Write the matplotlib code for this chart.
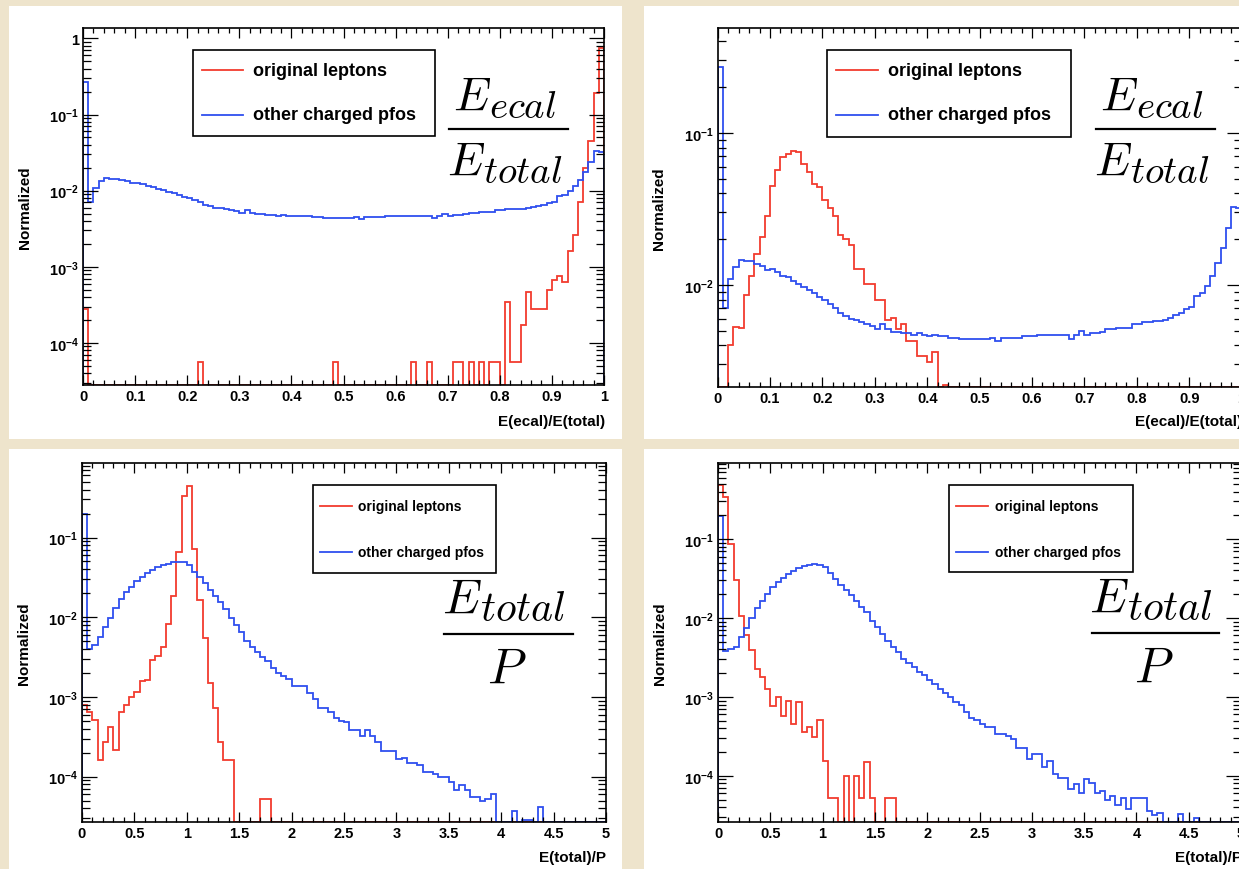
# Four ROOT-style normalized histograms (log y), rebuilt with matplotlib
import numpy as np
import matplotlib
matplotlib.use('Agg')
import matplotlib.pyplot as plt
from matplotlib.ticker import MultipleLocator, LogLocator, FuncFormatter, NullFormatter
from matplotlib.patches import Rectangle
from matplotlib.lines import Line2D

# ---------------- data (100 bins each) ----------------
edges_ecal = np.linspace(0.0, 1.0, 101)
edges_ep = np.linspace(0.0, 5.0, 101)

# E(ecal)/E(total), other charged pfos
blue_ecal = [
    0.27, 0.0071, 0.011, 0.0132, 0.0145, 0.0144, 0.0143, 0.0137, 0.0133, 0.0125,
    0.0127, 0.0121, 0.0114, 0.0113, 0.0106, 0.0102, 0.0097, 0.0093, 0.0088, 0.0083,
    0.0079, 0.0075, 0.0071, 0.0065, 0.0062, 0.0060, 0.0059, 0.0057, 0.0055, 0.0054,
    0.0051, 0.0055, 0.0051, 0.0049, 0.0049, 0.0048, 0.0048, 0.0047, 0.0048, 0.0047,
    0.0046, 0.0047, 0.0046, 0.0046, 0.0045, 0.0045, 0.0044, 0.0044, 0.0044, 0.0044,
    0.0044, 0.0044, 0.0045, 0.0043, 0.0045, 0.0045, 0.0045, 0.0045, 0.0046, 0.0046,
    0.0046, 0.0047, 0.0047, 0.0047, 0.0047, 0.0047, 0.0047, 0.0044, 0.0047, 0.0050,
    0.0047, 0.0048, 0.0048, 0.0049, 0.0051, 0.0051, 0.0052, 0.0052, 0.0052, 0.0055,
    0.0055, 0.0057, 0.0057, 0.0058, 0.0058, 0.0059, 0.0061, 0.0063, 0.0065, 0.0069,
    0.0072, 0.0084, 0.0088, 0.0099, 0.0115, 0.0139, 0.0175, 0.0237, 0.0327, 0.0320,
]

# E(ecal)/E(total), original leptons (top-left)
red_ecal_a = [
    2.8e-4, 0, 0, 0, 0, 0, 0, 0, 0, 0,
    0, 0, 0, 0, 0, 0, 0, 0, 0, 0,
    0, 0, 5.6e-5, 0, 0, 0, 0, 0, 0, 0,
    0, 0, 0, 0, 0, 0, 0, 0, 0, 0,
    0, 0, 0, 0, 0, 0, 0, 0, 5.6e-5, 0,
    0, 0, 0, 0, 0, 0, 0, 0, 0, 0,
    0, 0, 0, 5.6e-5, 0, 0, 5.6e-5, 0, 0, 0,
    0, 5.6e-5, 5.6e-5, 0, 5.6e-5, 0, 5.6e-5, 0, 5.6e-5, 5.6e-5,
    0, 3.4e-4, 5.6e-5, 5.6e-5, 1.7e-4, 4.6e-4, 2.8e-4, 2.8e-4, 2.8e-4, 5.0e-4,
    6.8e-4, 7.5e-4, 6.4e-4, 1.6e-3, 2.6e-3, 7.0e-3, 0.020, 0.045, 0.19, 0.75,
]

# E(ecal)/E(total), original leptons (top-right)
red_ecal_b = [
    0, 0, 0.0040, 0.0053, 0.0052, 0.0086, 0.0114, 0.0160, 0.0206, 0.0286,
    0.0446, 0.0570, 0.0690, 0.0727, 0.0758, 0.0746, 0.0625, 0.0550, 0.0460, 0.0440,
    0.0364, 0.0321, 0.0282, 0.0214, 0.0201, 0.0184, 0.0128, 0.0128, 0.0102, 0.0102,
    0.0079, 0.0079, 0.0059, 0.0061, 0.0051, 0.0055, 0.0043, 0.0043, 0.0034, 0.0034,
    0.0031, 0.0036, 0, 0.0022, 0, 0, 0, 0, 0, 0,
    0, 0, 0, 0, 0, 0, 0, 0, 0, 0,
    0, 0, 0, 0, 0, 0, 0, 0, 0, 0,
    0, 0, 0, 0, 0, 0, 0, 0, 0, 0,
    0, 0, 0, 0, 0, 0, 0, 0, 0, 0,
    0, 0, 0, 0, 0, 0, 0, 0, 0, 0,
]

# E(total)/P, other charged pfos (bottom-left)
blue_ep_a = [
    0.20, 0.00404, 0.00449, 0.00565, 0.00763, 0.0099, 0.0130, 0.0171, 0.0210, 0.0240,
    0.0285, 0.0324, 0.0363, 0.0392, 0.0428, 0.0453, 0.0465, 0.0486, 0.0490, 0.0486,
    0.0450, 0.0374, 0.0315, 0.0265, 0.0220, 0.0185, 0.0153, 0.0126, 0.0099, 0.0080,
    0.0065, 0.0051, 0.00424, 0.00367, 0.00318, 0.00283, 0.00234, 0.00202, 0.00183, 0.00166,
    0.00137, 0.00137, 0.00137, 0.00113, 0.00094, 0.00073, 0.00072, 0.00064, 0.00055, 0.00050,
    0.00048, 0.00039, 0.00039, 0.00032, 0.00038, 0.00032, 0.00027, 0.00021, 0.00021, 0.00021,
    1.65e-4, 1.7e-4, 1.5e-4, 1.5e-4, 1.4e-4, 1.13e-4, 1.13e-4, 1.07e-4, 1.0e-4, 1.0e-4,
    8.5e-5, 6.9e-5, 7.8e-5, 6.9e-5, 5.5e-5, 5.5e-5, 5.0e-5, 5.2e-5, 6.0e-5, 0,
    0, 0, 3.7e-5, 0, 2.9e-5, 2.9e-5, 0, 4.2e-5, 0, 0,
    0, 0, 0, 0, 0, 0, 0, 0, 0, 0,
]

# E(total)/P, original leptons (bottom-left)
red_ep_a = [
    0.0008, 0.00064, 0.00052, 0.00016, 0.00027, 0.00042, 0.000214, 0.00064, 0.00079, 0.0010,
    0.00117, 0.00158, 0.00163, 0.00291, 0.00327, 0.00424, 0.00817, 0.0185, 0.0667, 0.327,
    0.445, 0.0713, 0.0165, 0.00544, 0.00148, 0.00073, 0.000275, 0.000162, 0.000162, 0,
    0, 0, 0, 0, 5.3e-5, 5.3e-5, 0, 0, 0, 0,
    0, 0, 0, 0, 0, 0, 0, 0, 0, 0,
    0, 0, 0, 0, 0, 0, 0, 0, 0, 0,
    0, 0, 0, 0, 0, 0, 0, 0, 0, 0,
    0, 0, 0, 0, 0, 0, 0, 0, 0, 0,
    0, 0, 0, 0, 0, 0, 0, 0, 0, 0,
    0, 0, 0, 0, 0, 0, 0, 0, 0, 0,
]

# E(total)/P, other charged pfos (bottom-right)
blue_ep_b = [
    0.197, 0.00385, 0.0040, 0.0043, 0.0057, 0.0075, 0.0099, 0.0132, 0.0166, 0.0201,
    0.0244, 0.0283, 0.0320, 0.0360, 0.0397, 0.0425, 0.0450, 0.0473, 0.0482, 0.0470,
    0.0437, 0.0371, 0.0311, 0.0263, 0.0226, 0.0195, 0.0166, 0.0139, 0.0118, 0.0092,
    0.0076, 0.0062, 0.0051, 0.0043, 0.00366, 0.0030, 0.00266, 0.00237, 0.00204, 0.0019,
    0.00163, 0.00145, 0.00126, 0.00111, 0.00099, 0.00085, 0.00079, 0.00064, 0.00054, 0.00051,
    0.00046, 0.00042, 0.00041, 0.00034, 0.00034, 0.00032, 0.00029, 2.22e-4, 2.22e-4, 1.63e-4,
    1.88e-4, 1.88e-4, 1.28e-4, 1.55e-4, 1.07e-4, 9.5e-5, 9.5e-5, 6.8e-5, 7.9e-5, 6.1e-5,
    9.0e-5, 8.0e-5, 6.1e-5, 6.4e-5, 4.9e-5, 5.5e-5, 4.3e-5, 5.2e-5, 3.8e-5, 5.2e-5,
    5.2e-5, 5.2e-5, 3.6e-5, 3.2e-5, 3.4e-5, 0, 0, 0, 3.3e-5, 0,
    0, 2.9e-5, 0, 0, 0, 0, 0, 0, 0, 0,
]

# E(total)/P, original leptons (bottom-right)
red_ep_b = [
    0.48, 0.338, 0.0865, 0.030, 0.0105, 0.0060, 0.0039, 0.00225, 0.0018, 0.00126,
    0.00076, 0.00099, 0.00057, 0.00090, 0.00045, 0.00085, 0.00036, 0.00041, 0.00031, 0.00051,
    1.55e-4, 5.3e-5, 5.3e-5, 0, 1.0e-4, 0, 1.0e-4, 5.3e-5, 1.5e-4, 5.3e-5,
    0, 0, 5.3e-5, 5.3e-5, 0, 0, 0, 0, 0, 0,
    0, 0, 0, 0, 0, 0, 0, 0, 0, 0,
    0, 0, 0, 0, 0, 0, 0, 0, 0, 0,
    0, 0, 0, 0, 0, 0, 0, 0, 0, 0,
    0, 0, 0, 0, 0, 0, 0, 0, 0, 0,
    0, 0, 0, 0, 0, 0, 0, 0, 0, 0,
    0, 0, 0, 0, 0, 0, 0, 0, 0, 0,
]

legend_labels = ['original leptons', 'other charged pfos']

# ---------------- style ----------------
RED = '#F23C2E'
BLUE = '#2F4FEF'
W, H = 1239, 870

plt.rcParams['font.family'] = 'Liberation Sans'
plt.rcParams['font.weight'] = 'bold'
plt.rcParams['mathtext.fontset'] = 'custom'
plt.rcParams['mathtext.rm'] = 'Liberation Sans:bold'
plt.rcParams['mathtext.bf'] = 'Liberation Sans:bold'
plt.rcParams['mathtext.it'] = 'Liberation Sans:italic:bold'

fig = plt.figure(figsize=(W / 100, H / 100), dpi=100)
fig.patch.set_facecolor('#EEE4CC')


def fx(px):
    return px / W


def fy(py):
    return 1 - py / H


def white_panel(x0, y0, x1, y1):
    fig.add_artist(Rectangle((fx(x0), fy(y1)), fx(x1) - fx(x0), (y1 - y0) / H,
                             transform=fig.transFigure, facecolor='white',
                             edgecolor='none', zorder=-5))


def ylab(v, pos):
    if abs(v - 1) < 1e-9:
        return '1'
    return r'$\mathbf{10^{%d}}$' % int(round(np.log10(v)))


def make_axes(l, t, r, b, xmax, xmaj, xmin_step, ymin, ymax):
    ax = fig.add_axes([fx(l), fy(b), fx(r) - fx(l), (b - t) / H])
    ax.set_facecolor('white')
    ax.set_xlim(0, xmax)
    ax.set_yscale('log')
    ax.set_ylim(ymin, ymax)
    ax.xaxis.set_major_locator(MultipleLocator(xmaj))
    ax.xaxis.set_minor_locator(MultipleLocator(xmin_step))
    ax.xaxis.set_major_formatter(FuncFormatter(lambda v, p: '%g' % round(v, 3)))
    ax.yaxis.set_major_locator(LogLocator(base=10, numticks=20))
    ax.yaxis.set_minor_locator(LogLocator(base=10, subs=np.arange(2, 10), numticks=20))
    ax.yaxis.set_minor_formatter(NullFormatter())
    ax.yaxis.set_major_formatter(FuncFormatter(ylab))
    ax.tick_params(which='both', direction='in', top=True, right=True,
                   labelsize=10.5, width=0.9)
    ax.tick_params(axis='x', which='major', length=7.5, pad=3)
    ax.tick_params(axis='x', which='minor', length=3.8)
    ax.tick_params(axis='y', which='major', length=11, pad=3)
    ax.tick_params(axis='y', which='minor', length=5.5)
    for s in ax.spines.values():
        s.set_linewidth(1.2)
    ax.set_ylabel('Normalized', fontsize=11, fontweight='bold')
    ax.yaxis.set_label_coords(-0.098, 0.5)
    return ax


def draw_hist(ax, edges, vals, color, ymin):
    v = np.clip(np.asarray(vals, dtype=float), ymin, None)
    ax.stairs(v, edges, baseline=ymin, color=color, lw=1.3)


def legend_box(x0, y0, x1, y1, ys, lx0, lx1, tx, size):
    fig.add_artist(Rectangle((fx(x0), fy(y1)), fx(x1) - fx(x0), (y1 - y0) / H,
                             transform=fig.transFigure, facecolor='white',
                             edgecolor='black', lw=1.2, zorder=5))
    for yy, c, lab in zip(ys, [RED, BLUE], legend_labels):
        fig.add_artist(Line2D([fx(lx0), fx(lx1)], [fy(yy), fy(yy)],
                              transform=fig.transFigure, color=c, lw=1.3, zorder=6))
        fig.text(fx(tx), fy(yy), lab, fontsize=size, fontweight='bold',
                 va='center', ha='left', zorder=6)


def symbol(base, sub, xb, xs, ybase, drop=8, size=34, sub_size=28):
    # big italic letter with a large subscript, Computer Modern
    fig.text(fx(xb), fy(ybase), base, fontsize=size, ha='left', va='baseline',
             math_fontfamily='cm', zorder=6)
    if sub:
        fig.text(fx(xs), fy(ybase + drop), sub, fontsize=sub_size, ha='left',
                 va='baseline', math_fontfamily='cm', zorder=6)


def bar(x0, x1, y):
    fig.add_artist(Line2D([fx(x0), fx(x1)], [fy(y), fy(y)],
                          transform=fig.transFigure, color='black', lw=1.6, zorder=6))


# white pads
white_panel(9, 7, 622, 440)
white_panel(644, 7, 1239, 440)
white_panel(9, 450, 622, 870)
white_panel(644, 450, 1239, 870)

# ---- top-left ----
ax1 = make_axes(83, 29, 604, 386, 1.0, 0.1, 0.02, 2.8e-5, 1.37)
draw_hist(ax1, edges_ecal, red_ecal_a, RED, 2.8e-5)
draw_hist(ax1, edges_ecal, blue_ecal, BLUE, 2.8e-5)
fig.text(fx(605), fy(422), 'E(ecal)/E(total)', fontsize=11, fontweight='bold',
         ha='right', va='center')
legend_box(192.5, 50.7, 435, 137, [71, 115.7], 201.6, 243, 253, 13)
symbol(r'$E$', r'$ecal$', 453, 489, 110)
bar(449, 568, 130)
symbol(r'$E$', r'$total$', 447, 483, 175)

# ---- top-right ----
ax2 = make_axes(717.6, 29, 1241.6, 388, 1.0, 0.1, 0.02, 2.13e-3, 0.49)
draw_hist(ax2, edges_ecal, red_ecal_b, RED, 2.13e-3)
draw_hist(ax2, edges_ecal, blue_ecal, BLUE, 2.13e-3)
fig.text(fx(1242), fy(422), 'E(ecal)/E(total)', fontsize=11, fontweight='bold',
         ha='right', va='center')
legend_box(827, 50.7, 1071, 137.7, [71, 115.7], 836, 878, 888, 13)
symbol(r'$E$', r'$ecal$', 1100.5, 1136.5, 110)
bar(1095.5, 1215, 130)
symbol(r'$E$', r'$total$', 1094.5, 1130.5, 175)

# ---- bottom-left ----
ax3 = make_axes(82, 464, 606, 823, 5.0, 0.5, 0.1, 2.7e-5, 0.86)
draw_hist(ax3, edges_ep, red_ep_a, RED, 2.7e-5)
draw_hist(ax3, edges_ep, blue_ep_a, BLUE, 2.7e-5)
fig.text(fx(606), fy(858), 'E(total)/P', fontsize=11, fontweight='bold',
         ha='right', va='center')
legend_box(313.4, 485.7, 496, 573.7, [506.7, 552.7], 320, 352, 358.5, 10)
symbol(r'$E$', r'$total$', 442, 480, 613, size=35.5, sub_size=30)
bar(444, 573, 635)
symbol(r'$P$', None, 487, None, 683, size=36)

# ---- bottom-right ----
ax4 = make_axes(718, 464, 1241, 823, 5.0, 0.5, 0.1, 2.6e-5, 0.92)
draw_hist(ax4, edges_ep, red_ep_b, RED, 2.6e-5)
draw_hist(ax4, edges_ep, blue_ep_b, BLUE, 2.6e-5)
fig.text(fx(1242), fy(858), 'E(total)/P', fontsize=11, fontweight='bold',
         ha='right', va='center')
legend_box(949, 485.7, 1132.6, 573.3, [506.7, 552.7], 956, 988, 994.7, 10)
symbol(r'$E$', r'$total$', 1089, 1127, 612, size=35.5, sub_size=30)
bar(1092, 1219, 634)
symbol(r'$P$', None, 1134, None, 682, size=36)

fig.savefig('out.png', dpi=100, facecolor=fig.get_facecolor())
